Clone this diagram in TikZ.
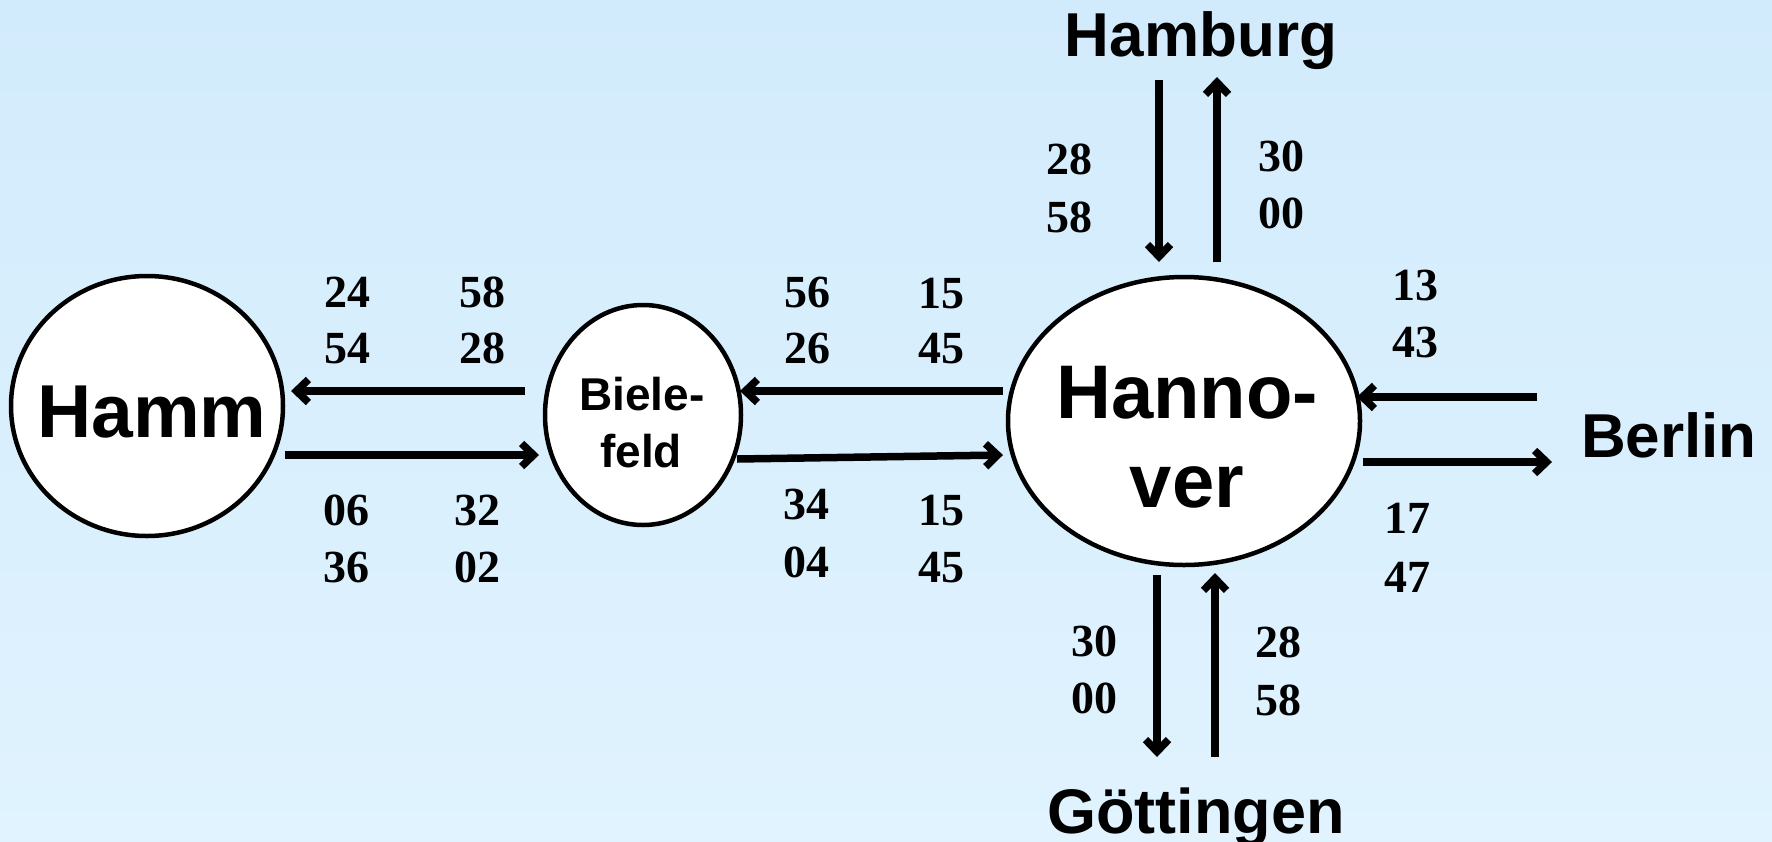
\documentclass[tikz,border=0pt]{standalone}
\usepackage{fontspec}
\setmainfont{Liberation Serif}
\newfontfamily\arialfont{Liberation Sans}
\usetikzlibrary{arrows.meta,shapes.geometric,calc}
\definecolor{bgtop}{RGB}{210,235,252}
\definecolor{bgbot}{RGB}{224,243,254}
\tikzset{
  city/.style={ellipse, draw=black, fill=white, line width=4.5pt, inner sep=0pt},
  cname/.style={anchor=base, inner sep=0pt, font=\arialfont\bfseries\fontsize{#1}{#1}\selectfont},
  num/.style={anchor=base, inner sep=0pt, font=\bfseries\fontsize{46}{46}\selectfont},
  arr/.style={line width=7.5pt, -{Straight Barb[length=12pt,width=23pt,sharp]}}
}
\begin{document}
\begin{tikzpicture}[x=1pt,y=-1pt]
\shade[top color=bgtop, bottom color=bgbot] (0,0) rectangle (1772,841);
\useasboundingbox (0,0) rectangle (1772,841);

% station ellipses
\node[city, minimum width=272pt, minimum height=260pt] (hm) at (147,406) {};
\node[city, minimum width=196pt, minimum height=220pt] (bi) at (643,415) {};
\node[city, minimum width=352pt, minimum height=288pt] (ha) at (1184,421) {};

% station names
\node[cname=75] (hmt) at (152,437) {Hamm};
\node[cname=46] (bit1) at (642,410) {Biele-};
\node[cname=46] (bit2) at (641,467) {feld};
\node[cname=76] (hat1) at (1187,418) {Hanno-};
\node[cname=76] (hat2) at (1187,507) {ver};
\node[cname=62] (hb) at (1201,56) {Hamburg};
\node[cname=62] (be) at (1669,457) {Berlin};
\node[cname=63] (go) at (1196,833) {Göttingen};

% connectors
\draw[arr] ($(bi)+(-118,-24)$) -- ($(hm)+(144,-15)$);
\draw[arr] ($(hm)+(138,49)$) -- ($(bi)+(-104,40)$);
\draw[arr] ($(ha)+(-181,-30)$) -- ($(bi)+(97,-24)$);
\draw[arr] ($(bi)+(94,44)$) -- ($(ha)+(-181,34)$);
\draw[arr] ($(hb.base)+(-42,24)$) -- ($(ha)+(-25,-159)$);
\draw[arr] ($(ha)+(33,-159)$) -- ($(hb.base)+(16,21)$);
\draw[arr] ($(be.base)+(-132,-60)$) -- ($(ha)+(173,-24)$);
\draw[arr] ($(ha)+(179,41)$) -- ($(be.base)+(-117,5)$);
\draw[arr] ($(ha)+(-27,154)$) -- ($(go.base)+(-39,-76)$);
\draw[arr] ($(go.base)+(19,-76)$) -- ($(ha)+(31,152)$);

% times: Hamburg
\node[num] (n1) at (1069,174) {28};
\node[num] (n2) at (1069,232) {58};
\node[num] (n3) at (1281,171) {30};
\node[num] (n4) at (1281,228) {00};
% Berlin
\node[num] (n5) at (1415,300) {13};
\node[num] (n6) at (1415,357) {43};
\node[num] (n7) at (1407,533) {17};
\node[num] (n8) at (1407,592) {47};
% Goettingen
\node[num] (n9) at (1094,656) {30};
\node[num] (n10) at (1094,713) {00};
\node[num] (n11) at (1278,657) {28};
\node[num] (n12) at (1278,715) {58};
% Hamm - Bielefeld
\node[num] (n13) at (347,307) {24};
\node[num] (n14) at (347,363) {54};
\node[num] (n15) at (482,307) {58};
\node[num] (n16) at (482,363) {28};
\node[num] (n17) at (346,525) {06};
\node[num] (n18) at (346,582) {36};
\node[num] (n19) at (477,525) {32};
\node[num] (n20) at (477,582) {02};
% Bielefeld - Hannover
\node[num] (n21) at (807,307) {56};
\node[num] (n22) at (807,363) {26};
\node[num] (n23) at (941,308) {15};
\node[num] (n24) at (941,363) {45};
\node[num] (n25) at (806,519) {34};
\node[num] (n26) at (806,577) {04};
\node[num] (n27) at (941,525) {15};
\node[num] (n28) at (941,582) {45};
\end{tikzpicture}
\end{document}
